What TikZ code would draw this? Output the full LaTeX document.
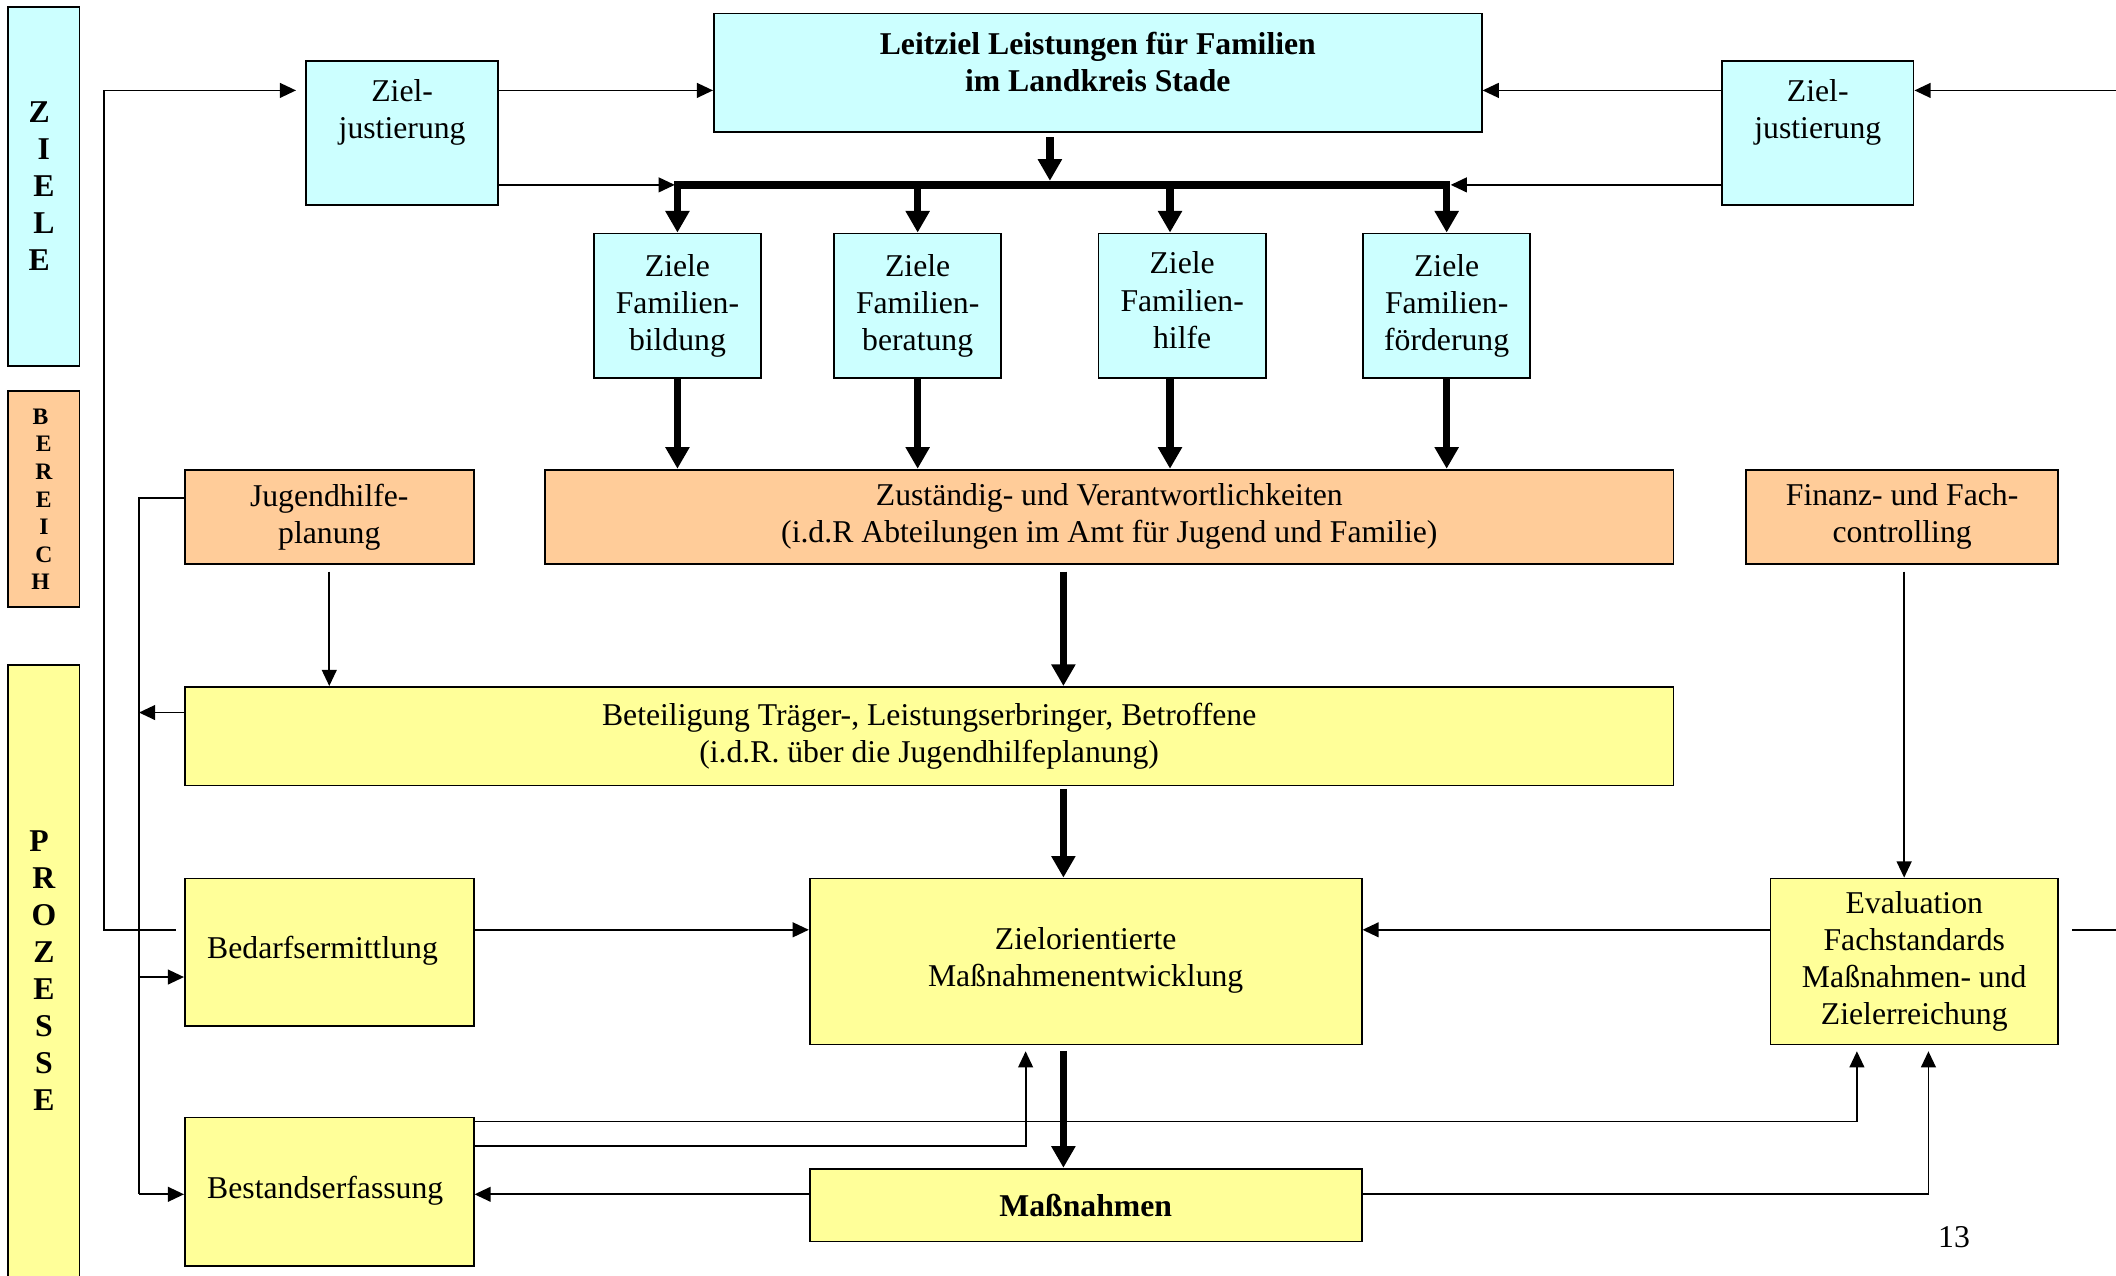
\documentclass[tikz,border=0pt]{standalone}
\usepackage{fontspec}
\setmainfont{Liberation Serif}
\usetikzlibrary{arrows.meta}
\definecolor{cy}{HTML}{CCFFFF}
\definecolor{orng}{HTML}{FFCC99}
\definecolor{yel}{HTML}{FFFF99}
\begin{document}
\begin{tikzpicture}[x=1pt,y=-1pt,
  box/.style={draw, line width=1.3pt, inner sep=0pt, align=center, font=\fontsize{23.5}{27.5}\selectfont},
  cbox/.style={box, fill=cy},
  obox/.style={box, fill=orng},
  ybox/.style={box, fill=yel},
  lbar/.style={draw, line width=1.3pt, inner sep=0pt, align=center, font=\bfseries\fontsize{23.5}{27.4}\selectfont},
  sbar/.style={draw, line width=1.3pt, inner sep=0pt, align=center, font=\bfseries\fontsize{17.5}{20.4}\selectfont},
  arr/.style={line width=1.3pt, -{Triangle[length=12pt,width=11pt]}},
  ln/.style={line width=1.3pt},
  harr/.style={line width=5.5pt, -{Triangle[length=16pt,width=17pt]}},
  hln/.style={line width=5.5pt, line cap=rect},
]
\useasboundingbox (0,0) rectangle (1568,945);

% side bars
\node[lbar, fill=cy, minimum width=53pt, minimum height=266pt] (zl) at (32.5,138) {Z\hspace*{7pt}\\I\hspace*{7pt}\\E\hspace*{7pt}\\L\hspace*{7pt}\\E\hspace*{7pt}};
\node[sbar, fill=orng, minimum width=53pt, minimum height=160pt] (br) at (32.5,370) {B\hspace*{5pt}\\E\hspace*{5pt}\\R\hspace*{5pt}\\E\hspace*{5pt}\\I\hspace*{5pt}\\C\hspace*{5pt}\\H\hspace*{5pt}};
\node[lbar, fill=yel, minimum width=53pt, minimum height=467pt] (pz) at (32.5,726.5) {P\hspace*{7pt}\\R\hspace*{7pt}\\O\hspace*{7pt}\\Z\hspace*{7pt}\\E\hspace*{7pt}\\S\hspace*{7pt}\\S\hspace*{7pt}\\E\hspace*{7pt}\\[-13.4pt]\mbox{}};

% coordinates
\coordinate (ytop) at (0,67);
\coordinate (ybar) at (0,137);
\coordinate (yj) at (0,369);
\coordinate (ybt) at (0,528);
\coordinate (yb) at (0,689);
\coordinate (ybe) at (0,724);
\coordinate (yl1) at (0,831);
\coordinate (yl2) at (0,849);
\coordinate (ym) at (0,885);
\coordinate (redge1) at (1580,67);
\coordinate (redge2) at (1580,689);

% top
\node[cbox, minimum width=142pt, minimum height=107pt] (zj1) at (298,98.5) {Ziel-\\justierung\\[8pt]\mbox{}};
\node[cbox, minimum width=142pt, minimum height=107pt] (zj2) at (1347,98.5) {Ziel-\\justierung\\[8pt]\mbox{}};
\node[cbox, minimum width=569pt, minimum height=88pt, font=\bfseries\fontsize{23.5}{27.5}\selectfont] (leit) at (813.5,54) {Leitziel Leistungen für Familien\\im Landkreis Stade\\[-11.5pt]\mbox{}};

\node[cbox, minimum width=124pt, minimum height=107pt] (z1) at (502,226.5) {Ziele\\Familien-\\bildung};
\node[cbox, minimum width=124pt, minimum height=107pt] (z2) at (680,226.5) {Ziele\\Familien-\\beratung};
\node[cbox, minimum width=124pt, minimum height=107pt] (z3) at (876,226.5) {Ziele\\Familien-\\hilfe\strut};
\node[cbox, minimum width=124pt, minimum height=107pt] (z4) at (1072,226.5) {Ziele\\Familien-\\förderung};

% orange row
\node[obox, minimum width=214pt, minimum height=70pt] (jhp) at (244,383) {Jugendhilfe-\\planung};
\node[obox, minimum width=836pt, minimum height=70pt] (zust) at (822,383) {Zuständig- und Verantwortlichkeiten\\(i.d.R Abteilungen im Amt für Jugend und Familie)};
\node[obox, minimum width=231pt, minimum height=70pt] (fin) at (1409.5,383) {Finanz- und Fach-\\controlling};

% yellow
\node[ybox, minimum width=1103pt, minimum height=73pt] (bet) at (688.5,545.5) {Beteiligung Träger-, Leistungserbringer, Betroffene\\(i.d.R. über die Jugendhilfeplanung)};
\node[ybox, minimum width=214pt, minimum height=109pt] (bed) at (244,705.5) {Bedarfsermittlung\hspace*{10pt}\\[-21pt]\mbox{}};
\node[ybox, minimum width=409pt, minimum height=123pt] (zmo) at (804.5,712.5) {Zielorientierte\\Maßnahmenentwicklung\\[-21pt]\mbox{}};
\node[ybox, minimum width=213pt, minimum height=123pt] (eval) at (1418.5,712.5) {Evaluation\\Fachstandards\\Maßnahmen- und\\Zielerreichung};
\node[ybox, minimum width=214pt, minimum height=110pt] (bst) at (244,883) {Bestandserfassung\hspace*{6pt}\\[-21pt]\mbox{}};
\node[ybox, minimum width=409pt, minimum height=54pt, font=\bfseries\fontsize{23.5}{27.5}\selectfont] (mas) at (804.5,893) {Maßnahmen};

\node[font=\fontsize{23.5}{27.5}\selectfont, inner sep=0pt] (pg) at (1448,917) {13};

% connectors top
\draw[arr] ([xshift=-6pt]bed.west |- yb) -| (77,67) -- ([xshift=-7pt]zj1.west |- ytop);
\draw[arr] (zj1.east |- ytop) -- (leit.west |- ytop);
\draw[arr] (zj2.west |- ytop) -- (leit.east |- ytop);
\draw[arr] (redge1) -- (zj2.east |- ytop);
\draw[hln] (z1.north |- ybar) -- (z4.north |- ybar);
\draw[arr] (zj1.east |- ybar) -- ([xshift=-2pt]z1.north |- ybar);
\draw[arr] (zj2.west |- ybar) -- ([xshift=3pt]z4.north |- ybar);
\draw[harr] ([xshift=-35.5pt,yshift=-3pt]leit.south) -- ([xshift=-35.5pt,yshift=3pt]leit.south |- ybar);
\draw[harr] (z1.north |- ybar) -- (z1.north);
\draw[harr] (z2.north |- ybar) -- (z2.north);
\draw[harr] ([xshift=-9pt]z3.north |- ybar) -- ([xshift=-9pt]z3.north);
\draw[harr] (z4.north |- ybar) -- (z4.north);
\draw[harr] (z1.south) -- (z1.south |- zust.north);
\draw[harr] (z2.south) -- (z2.south |- zust.north);
\draw[harr] ([xshift=-9pt]z3.south) -- ([xshift=-9pt]z3.south |- zust.north);
\draw[harr] (z4.south) -- (z4.south |- zust.north);

% middle
\draw[harr] ([xshift=-34pt,yshift=-5pt]zust.south) -- ([xshift=-34pt]zust.south |- bet.north);
\draw[arr] ([yshift=-5pt]jhp.south) -- (jhp.south |- bet.north);
\draw[arr] ([xshift=1.5pt,yshift=-5pt]fin.south) -- ([xshift=1.5pt]fin.south |- eval.north);
\draw[ln] (jhp.west |- yj) -| (103,885);
\draw[arr] (103,885) -- (bst.west |- ym);
\draw[arr] (103,724) -- (bed.west |- ybe);
\draw[arr] (bet.west |- ybt) -- (103,528);
\draw[harr] ([xshift=-16.5pt,yshift=-2pt]zmo.north |- bet.south) -- ([xshift=-16.5pt]zmo.north);

% lower
\draw[arr] (bed.east |- yb) -- (zmo.west |- yb);
\draw[arr] (eval.west |- yb) -- (zmo.east |- yb);
\draw[ln] ([xshift=10pt]eval.east |- yb) -- (redge2);
\draw[harr] ([xshift=-16.5pt,yshift=-4pt]zmo.south) -- ([xshift=-16.5pt]mas.north);
\draw[arr] (mas.west |- ym) -- (bst.east |- ym);
\draw[arr] (bst.east |- yl1) -| (1376,779);
\draw[arr] (bst.east |- yl2) -| (760,779);
\draw[arr] (mas.east |- ym) -| (1429,779);
\end{tikzpicture}
\end{document}
